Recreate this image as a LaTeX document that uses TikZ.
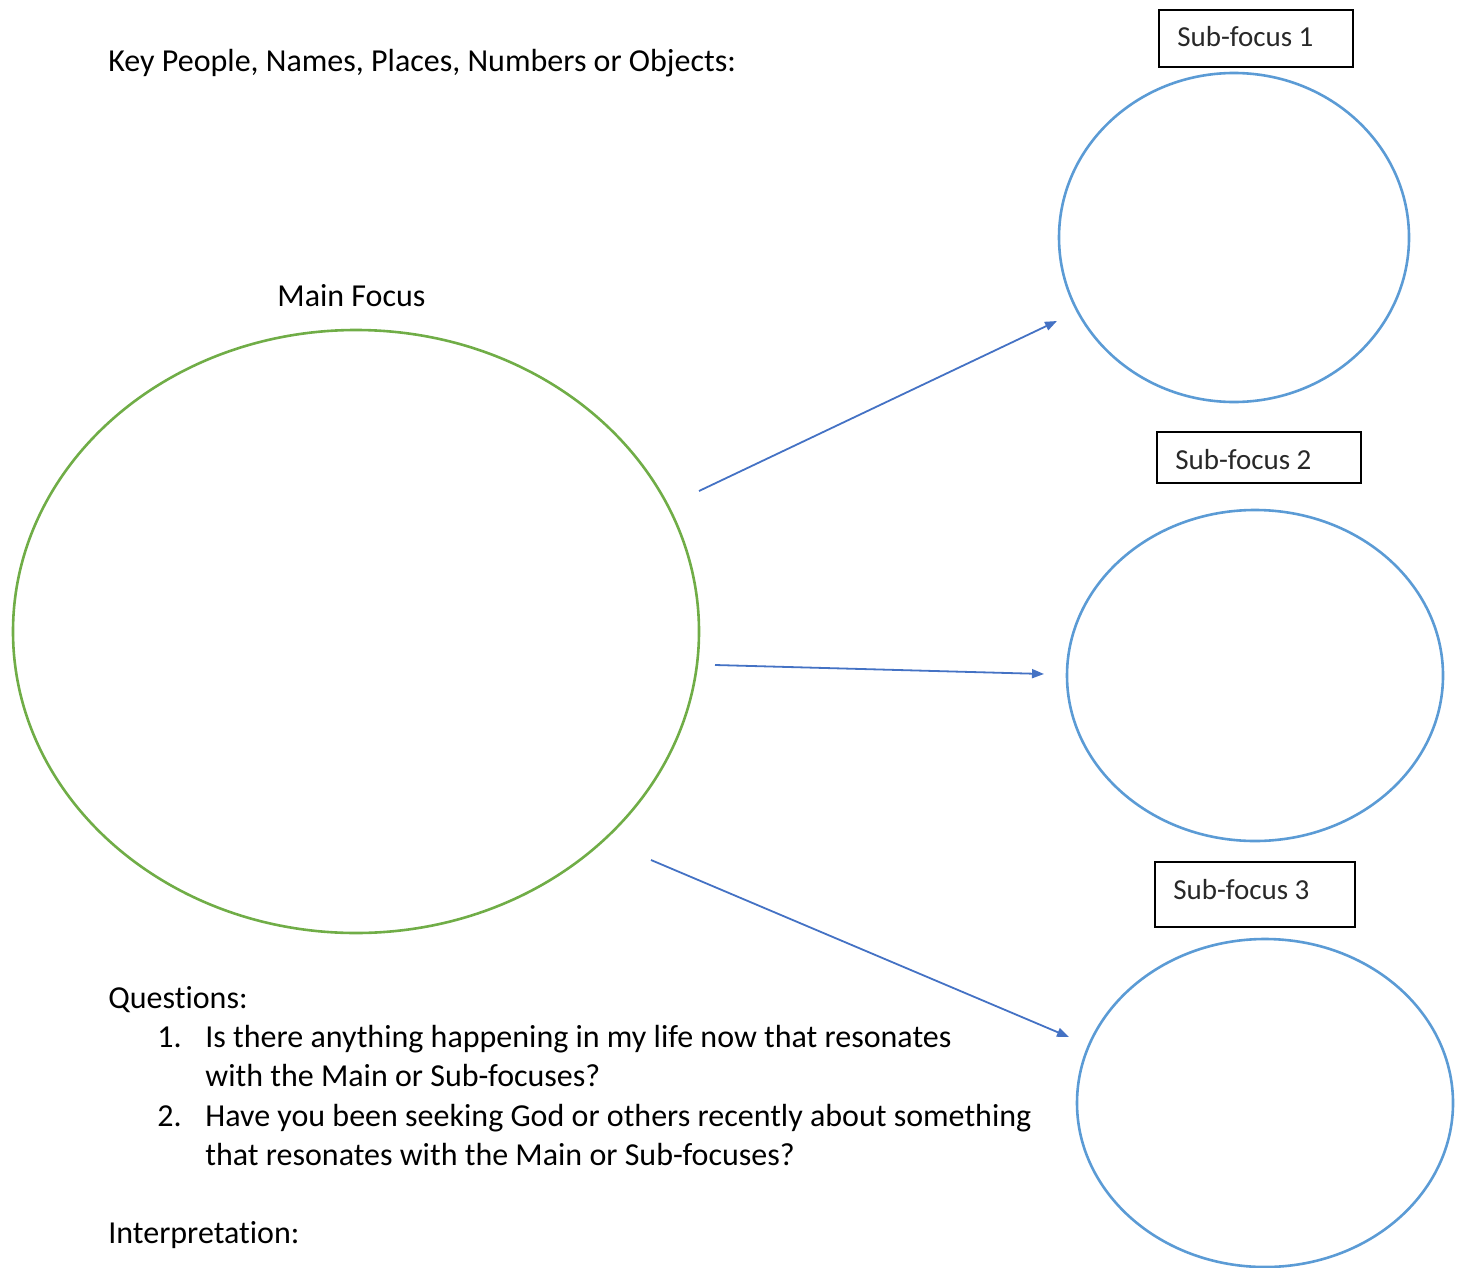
\documentclass[tikz,border=0pt]{standalone}
\usepackage{fontspec}
\setmainfont[Ligatures={NoCommon}]{Carlito}
\usetikzlibrary{shapes.geometric,arrows.meta}
\definecolor{mainGreen}{RGB}{112,173,71}
\definecolor{subBlue}{RGB}{91,155,213}
\definecolor{arrBlue}{RGB}{68,114,196}
\definecolor{boxText}{RGB}{40,40,40}
\tikzset{
  txt/.style={anchor=base west, inner sep=0pt, font=\fontsize{16}{19}\selectfont},
  subtxt/.style={anchor=base west, inner sep=0pt, text=boxText, font=\fontsize{14.5}{17}\selectfont},
  mainell/.style={draw=mainGreen, line width=1.3pt, ellipse, inner sep=0pt},
  subell/.style={draw=subBlue, line width=1.3pt, ellipse, inner sep=0pt},
  subbox/.style={draw=black, line width=0.9pt, rectangle, inner sep=0pt},
  conn/.style={draw=arrBlue, line width=0.9pt, -{Triangle[length=6pt,width=4.5pt]}}
}
\begin{document}
\begin{tikzpicture}[x=0.5pt,y=-0.5pt]
\useasboundingbox (0,0) rectangle (1461,1268);
% text
\node[txt] (key) at (108,72) {Key People, Names, Places, Numbers or Objects:};
\node[txt] (mf) at (277,306) {Main Focus};
\node[txt] (q) at (108,1008) {Questions:};
\node[txt] (n1) at (157,1047) {1.};
\node[txt] (q1a) at (205,1047) {Is there anything happening in my life now that resonates};
\node[txt] (q1b) at (205,1086) {with the Main or Sub-focuses?};
\node[txt] (n2) at (157,1126) {2.};
\node[txt] (q2a) at (205,1126) {Have you been seeking God or others recently about something};
\node[txt] (q2b) at (205,1165) {that resonates with the Main or Sub-focuses?};
\node[txt] (interp) at (108,1243) {Interpretation:};
% ellipses
\node[mainell, minimum width=343pt, minimum height=301.5pt] (main) at (356,631.5) {};
\node[subell, minimum width=175pt, minimum height=164.5pt] (s1) at (1234,237.5) {};
\node[subell, minimum width=188pt, minimum height=165.5pt] (s2) at (1255,675.5) {};
\node[subell, minimum width=188pt, minimum height=164pt] (s3) at (1265,1103) {};
% boxes
\node[subbox, minimum width=97pt, minimum height=28.5pt] (b1) at (1256,38.5) {};
\node[subtxt] (t1) at (1177,47) {Sub-focus 1};
\node[subbox, minimum width=102pt, minimum height=25.5pt] (b2) at (1259,457.5) {};
\node[subtxt] (t2) at (1175,469) {Sub-focus 2};
\node[subbox, minimum width=100pt, minimum height=32.5pt] (b3) at (1255,894.5) {};
\node[subtxt] (t3) at (1173,899) {Sub-focus 3};
% connectors
\coordinate (a1s) at (699,491);
\coordinate (a1e) at (1057,321);
\coordinate (a2s) at (715,665);
\coordinate (a2e) at (1044,674);
\coordinate (a3s) at (651,860);
\coordinate (a3e) at (1069,1037);
\draw[conn] (a1s) -- (a1e);
\draw[conn] (a2s) -- (a2e);
\draw[conn] (a3s) -- (a3e);
\end{tikzpicture}
\end{document}
